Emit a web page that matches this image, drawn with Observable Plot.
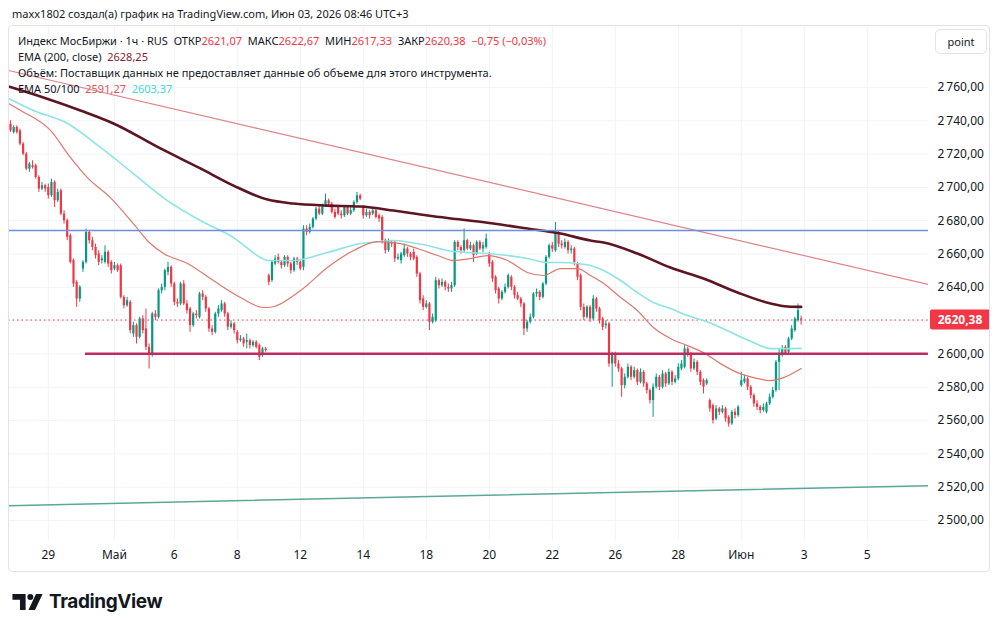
<!DOCTYPE html>
<html><head><meta charset="utf-8">
<script src="https://cdn.jsdelivr.net/npm/d3@7"></script>
<script src="https://cdn.jsdelivr.net/npm/@observablehq/plot@0.6"></script>
<style>
body{margin:0;background:#fff;font-family:"Noto Sans",sans-serif;color:#131722;}
#page{position:relative;width:1000px;height:629px;overflow:hidden;background:#fff;}
#hdr{position:absolute;left:12px;top:6px;font-size:11px;line-height:16px;white-space:nowrap;}
#chart{position:absolute;left:8px;top:25px;}
#frame{position:absolute;left:8px;top:25px;width:982px;height:547px;border:1px solid #e0e3eb;border-radius:4px;box-sizing:border-box;pointer-events:none;}
.lg{position:absolute;left:18px;font-size:11px;line-height:16px;white-space:nowrap;color:#131722;}
.r{color:#f23645}
#btn{position:absolute;left:935px;top:29px;width:52px;height:25px;border:1px solid #e0e3eb;border-radius:5px;box-sizing:border-box;font-size:11px;line-height:23px;text-align:center;background:#fff;}
#logo{position:absolute;left:12px;top:590px;display:flex;align-items:center;gap:6px;}
#logo span{font-family:Inter,"Noto Sans",sans-serif;font-weight:700;font-size:19px;letter-spacing:-0.4px;color:#131722;}
</style></head>
<body><div id="page">
<div id="hdr">maxx1802 создал(а) график на TradingView.com, Июн 03, 2026 08:46 UTC+3</div>
<div id="chart"></div>
<div class="lg" style="top:33px">Индекс МосБиржи · 1ч · RUS&nbsp;&nbsp;ОТКР<span class="r">2621,07</span>&nbsp;&nbsp;МАКС<span class="r">2622,67</span>&nbsp;&nbsp;МИН<span class="r">2617,33</span>&nbsp;&nbsp;ЗАКР<span class="r">2620,38</span>&nbsp;&nbsp;<span class="r">−0,75 (−0,03%)</span></div>
<div class="lg" style="top:49px">EMA (200, close)&nbsp;&nbsp;<span style="color:#8e1b2c">2628,25</span></div>
<div class="lg" style="top:65px">Объём: Поставщик данных не предоставляет данные об объеме для этого инструмента.</div>
<div class="lg" style="top:81px">EMA 50/100&nbsp;&nbsp;<span style="color:#e0525a">2591,27</span>&nbsp;&nbsp;<span style="color:#3fd6d6">2603,37</span></div>
<div id="btn">point</div>
<div id="frame"></div>
<div id="logo"><svg width="31" height="16" viewBox="0 0 32 17"><path d="M0 0H14V17H8V6H0Z" fill="#131722"/><circle cx="19" cy="3.2" r="3.2" fill="#131722"/><path d="M17 17L25 0H32L24 17Z" fill="#131722"/></svg><span>TradingView</span></div>
</div>
<script>
// ---- candles (hourly) ----
const OPEN = [
2738,2733,2736,2734,2726,2720,2711,2713,2713,2706,
2699,2701,2700,2695,2703,2692,2698,2684,2680,2671,
2656,2643,2633,2651,2655,2673,2668,2664,2660,2656,
2655,2661,2655,2651,2653,2653,2634,2629,2631,2612,
2617,2610,2621,2615,2604,2600,2624,2622,2638,2640,
2649,2652,2642,2631,2630,2642,2630,2627,2617,2624,
2622,2636,2634,2627,2615,2613,2624,2626,2630,2624,
2616,2618,2613,2608,2609,2607,2608,2605,2607,2605,
2599,2603,2647,2644,2654,2658,2655,2653,2658,2654,
2650,2657,2655,2652,2675,2673,2676,2681,2687,2684,
2689,2692,2690,2685,2688,2684,2683,2688,2684,2686,
2691,2695,2688,2683,2685,2684,2686,2683,2682,2668,
2662,2667,2667,2657,2656,2659,2663,2660,2661,2658,
2648,2633,2628,2630,2619,2620,2644,2641,2643,2640,
2639,2641,2667,2664,2662,2668,2663,2665,2660,2667,
2663,2664,2660,2655,2646,2639,2633,2637,2640,2646,
2640,2635,2633,2630,2615,2619,2622,2636,2637,2634,
2642,2658,2665,2662,2673,2666,2664,2667,2662,2663,
2654,2647,2628,2622,2628,2621,2633,2627,2621,2617,
2618,2594,2600,2594,2591,2581,2586,2592,2586,2590,
2583,2589,2582,2578,2572,2580,2586,2580,2588,2582,
2589,2583,2585,2591,2592,2603,2600,2591,2595,2589,
2584,2582,2572,2569,2561,2567,2565,2567,2562,2558,
2565,2563,2581,2583,2585,2580,2575,2570,2568,2566,
2565,2570,2574,2578,2595,2600,2604,2601,2609,2614,
2620,2621.07];
const CLOSE = [
2734,2736,2733,2726,2720,2711,2714,2712,2706,2699,
2701,2699,2695,2703,2692,2697,2684,2680,2670,2655,
2642,2633,2640,2655,2673,2668,2664,2659,2655,2657,
2661,2654,2650,2653,2650,2634,2629,2632,2614,2617,
2610,2621,2614,2604,2600,2624,2622,2638,2640,2650,
2652,2642,2631,2630,2642,2630,2626,2617,2624,2623,
2636,2634,2627,2615,2613,2624,2627,2630,2624,2616,
2618,2614,2608,2609,2606,2608,2605,2607,2604,2598,
2603,2602,2643,2655,2657,2655,2653,2658,2654,2650,
2657,2655,2651,2675,2673,2676,2681,2687,2684,2689,
2692,2690,2685,2682,2684,2683,2688,2684,2686,2691,
2695,2693,2683,2685,2683,2686,2682,2681,2668,2662,
2667,2666,2657,2658,2660,2663,2660,2658,2657,2648,
2632,2628,2630,2619,2622,2644,2641,2643,2640,2639,
2641,2667,2664,2662,2668,2663,2665,2659,2667,2663,
2665,2669,2654,2645,2638,2633,2637,2640,2647,2640,
2635,2633,2630,2615,2619,2622,2636,2637,2634,2642,
2658,2665,2663,2673,2666,2665,2667,2662,2663,2655,
2646,2628,2622,2628,2621,2633,2627,2620,2616,2618,
2594,2600,2594,2591,2581,2586,2592,2586,2590,2583,
2589,2582,2578,2572,2580,2586,2580,2588,2582,2589,
2583,2585,2592,2594,2603,2600,2591,2595,2589,2583,
2580,2584,2567,2560,2567,2565,2567,2561,2558,2565,
2563,2568,2584,2585,2580,2575,2570,2568,2566,2568,
2570,2574,2578,2595,2600,2603,2600,2609,2615,2621,
2626,2620.38];
const HIGH = [
2740,2737,2737,2735,2727,2721,2715,2716,2714,2707,
2703,2702,2702,2705,2704,2699,2699,2686,2681,2672,
2657,2644,2641,2656,2675,2674,2670,2666,2662,2659,
2665,2662,2656,2655,2654,2654,2635,2634,2632,2619,
2618,2622,2623,2627,2606,2625,2626,2639,2642,2651,
2655,2653,2643,2633,2643,2644,2632,2628,2625,2626,
2637,2638,2635,2628,2617,2625,2629,2632,2631,2625,
2620,2619,2614,2611,2610,2612,2609,2608,2608,2606,
2604,2604,2648,2656,2659,2660,2656,2659,2659,2655,
2658,2658,2656,2677,2677,2678,2682,2688,2689,2690,
2696,2693,2691,2687,2689,2686,2689,2689,2688,2692,
2697,2696,2689,2687,2686,2688,2687,2684,2683,2669,
2669,2668,2668,2660,2661,2666,2664,2661,2663,2659,
2649,2635,2632,2631,2624,2646,2645,2645,2644,2642,
2643,2668,2668,2665,2675,2669,2667,2666,2668,2668,
2667,2672,2661,2656,2647,2640,2638,2642,2648,2647,
2641,2637,2634,2631,2620,2624,2637,2639,2638,2643,
2659,2666,2667,2679,2674,2668,2669,2668,2665,2664,
2655,2648,2630,2629,2629,2635,2634,2628,2622,2620,
2619,2601,2601,2596,2592,2588,2594,2593,2592,2591,
2591,2590,2583,2579,2582,2588,2587,2590,2589,2591,
2590,2587,2594,2596,2605,2604,2601,2597,2596,2590,
2585,2585,2573,2570,2569,2568,2569,2568,2563,2566,
2567,2569,2589,2587,2586,2581,2576,2572,2569,2570,
2571,2576,2580,2596,2603,2605,2605,2610,2617,2622,
2630,2622.67];
const LOW = [
2733,2732,2732,2725,2719,2710,2709,2711,2705,2697,
2698,2697,2693,2694,2688,2691,2683,2678,2668,2654,
2640,2628,2631,2649,2654,2666,2662,2657,2653,2654,
2654,2652,2648,2650,2649,2633,2627,2628,2612,2610,
2606,2609,2612,2602,2591,2598,2620,2621,2636,2638,
2647,2640,2629,2628,2629,2629,2624,2613,2616,2621,
2621,2632,2625,2613,2611,2612,2622,2625,2622,2614,
2615,2612,2606,2607,2604,2603,2603,2604,2603,2596,
2598,2601,2641,2643,2653,2654,2651,2652,2652,2648,
2649,2653,2650,2650,2671,2672,2675,2680,2683,2683,
2688,2688,2684,2681,2683,2681,2682,2683,2683,2685,
2690,2692,2681,2682,2681,2683,2681,2679,2666,2660,
2661,2664,2655,2656,2654,2658,2658,2656,2656,2646,
2630,2626,2627,2614,2618,2619,2639,2640,2638,2637,
2637,2640,2662,2660,2661,2662,2662,2655,2659,2662,
2661,2663,2652,2643,2636,2630,2632,2636,2639,2638,
2633,2632,2628,2611,2613,2618,2621,2634,2632,2633,
2641,2657,2661,2661,2664,2663,2663,2660,2660,2653,
2644,2626,2620,2621,2619,2620,2625,2618,2614,2615,
2592,2580,2592,2589,2574,2579,2585,2584,2585,2581,
2582,2580,2576,2570,2562,2579,2578,2579,2580,2581,
2581,2582,2584,2590,2591,2598,2589,2590,2587,2581,
2576,2581,2565,2558,2560,2563,2564,2559,2556,2557,
2561,2562,2580,2582,2578,2573,2568,2566,2564,2565,
2564,2569,2573,2577,2578,2598,2599,2600,2608,2613,
2619,2617.33];

// ---- indicator lines (bar position, value) ----
const EMA200_AT  = [-0.6,9.5,22.2,32.7,47.6,60.3,70.8,81.6,89.8,100.6,111.1,121.6,132.4,142.9,153.3,164.1,174.6,184.1,188.3,199,209.5,220,230.8,241.3,246.7,251];
const EMA200_VAL = [2760.6,2754.6,2746.2,2738.4,2723.4,2711.4,2701.1,2692.7,2690.3,2689.1,2688.5,2686.1,2683.1,2680.7,2678.3,2675.3,2672.3,2668.1,2666.9,2660.3,2651.9,2645.3,2636.9,2630.3,2628.5,2628.25];
const EMA100_AT  = [-0.6,7.3,18.1,28.6,39,49.8,60.3,70.8,79.4,81.6,89.8,100.6,111.1,117.5,121.6,127,132.4,138.7,145.1,151.4,157.8,164.1,170.5,174.6,180,184.1,188.3,193.7,199,204.1,209.5,214.9,220,225.4,230.8,235.9,241.3,246.7,251];
const EMA100_VAL = [2753.4,2746.2,2738.4,2724,2708.3,2692.1,2680.1,2669.9,2657.9,2656.1,2656.1,2660.9,2666.3,2667.5,2668.1,2666.9,2665.1,2662.1,2660.9,2660.3,2659.1,2657.3,2654.9,2654.9,2654.3,2653.1,2650.1,2644.1,2636.9,2630.9,2627.3,2623.1,2620.1,2615.9,2611.1,2606.9,2603.2,2603.2,2603.37];
const EMA50_AT   = [-0.6,3.2,12.7,19,24.4,31.7,39,44.4,48.6,56.2,64.4,73,80.3,81.6,92.1,100.6,108.9,116.5,123.8,129.2,135.6,140.6,146,151.4,157.8,164.1,169.2,174.6,180,184.1,188.3,193.7,199,204.1,209.5,214.9,220,225.4,230.8,235.9,241.3,245.4,251];
const EMA50_VAL  = [2750.4,2746.2,2734.2,2718,2705.9,2693.9,2678.3,2666.3,2660.3,2654.3,2644.1,2633.9,2627.9,2627.9,2638.1,2651.9,2662.1,2667.5,2666.3,2663.3,2659.1,2656.1,2657.3,2659.1,2656.1,2648.9,2647.1,2651.3,2651.3,2647.1,2642.3,2633.9,2626.1,2615.9,2609.3,2605,2600.8,2594.2,2588.8,2585.8,2584,2585.8,2591.27];

// ---- drawn lines ----
const TREND_RED_AT = [-0.6, 291.4], TREND_RED_VAL = [2770.2, 2641.7];
const TREND_TEAL_AT = [-0.6, 291.4], TREND_TEAL_VAL = [2508.9, 2520.9];
const LEVEL_BLUE = 2674.1;
const LEVEL_PINK = 2600.2, LEVEL_PINK_FROM = 23.8, LEVEL_PINK_TO = 291.4;
const LAST_PRICE = 2620.38;

// ---- axes ----
const X_TICK_POS = [12,33,52,72,92,112,132,152,172,192,212,232,252,272];
const X_TICK_LABELS = ["29","Май","6","8","12","14","18","20","22","26","28","Июн","3","5"];
const Y_TICKS = [2500,2520,2540,2560,2580,2600,2620,2640,2660,2680,2700,2720,2740,2760];

const UP = "#089981", DN = "#f23645";
const candles = CLOSE.map((c, i) => ({i, o: OPEN[i], h: HIGH[i], l: LOW[i], c}));
const col = d => d.c >= d.o ? UP : DN;
const pts = (xs, ys) => xs.map((x, k) => ({x, y: ys[k]}));
const xLabel = new Map(X_TICK_POS.map((p, k) => [p, X_TICK_LABELS[k]]));
const fmt = v => v.toFixed(2).replace(".", ",").replace(/^(\d)(\d{3})/, "$1\u2009$2");

const chart = Plot.plot({
  width: 982, height: 547,
  marginLeft: 0, marginRight: 62, marginTop: 0, marginBottom: 32,
  style: {fontFamily: "Noto Sans, sans-serif", fontSize: "12px", color: "#131722", background: "transparent", overflow: "visible"},
  x: {domain: [-0.635, 291.43], axis: null},
  y: {domain: [2487.99, 2797.23], axis: null},
  color: {type: "identity"},
  marks: [
    Plot.gridX(X_TICK_POS, {stroke: "#f0f3fa", strokeOpacity: 1}),
    Plot.gridY(Y_TICKS, {stroke: "#f0f3fa", strokeOpacity: 1}),
    Plot.axisX(X_TICK_POS, {anchor: "bottom", tickSize: 0, tickPadding: 10, tickFormat: d => xLabel.get(d), fill: "#131722"}),
    Plot.axisY(Y_TICKS, {anchor: "right", tickSize: 0, tickPadding: 9, tickFormat: fmt, textAnchor: "start", fill: "#131722"}),
    Plot.ruleY([LAST_PRICE], {stroke: DN, strokeDasharray: "1.5,3", strokeWidth: 1}),
    Plot.ruleX(candles, {x: "i", y1: "l", y2: "h", stroke: col, strokeWidth: 1}),
    Plot.ruleX(candles, {x: "i", y1: "o", y2: "c", stroke: col, strokeWidth: 2.2}),
    Plot.line(pts(EMA100_AT, EMA100_VAL), {x: "x", y: "y", stroke: "#8de4e4", strokeWidth: 1.6, curve: "monotone-x", clip: true}),
    Plot.line(pts(EMA50_AT, EMA50_VAL), {x: "x", y: "y", stroke: "#e0776f", strokeWidth: 1.2, curve: "monotone-x", clip: true}),
    Plot.line(pts(EMA200_AT, EMA200_VAL), {x: "x", y: "y", stroke: "#5c1521", strokeWidth: 2.6, curve: "monotone-x", clip: true}),
    Plot.line(pts(TREND_RED_AT, TREND_RED_VAL), {x: "x", y: "y", stroke: "#e0828a", strokeWidth: 1.2, clip: true}),
    Plot.line(pts(TREND_TEAL_AT, TREND_TEAL_VAL), {x: "x", y: "y", stroke: "#5aa896", strokeWidth: 1.5, clip: true}),
    Plot.ruleY([LEVEL_BLUE], {stroke: "#6e8fdc", strokeWidth: 1.5}),
    Plot.ruleY([LEVEL_PINK], {x1: LEVEL_PINK_FROM, x2: LEVEL_PINK_TO, stroke: "#bf2a63", strokeWidth: 2.5})
  ]
});
document.getElementById("chart").appendChild(chart);

// last-price label on the price scale
const yv = chart.scale("y").apply(LAST_PRICE);
const svg = d3.select(chart);
svg.append("rect").attr("x", 922).attr("y", yv - 10).attr("width", 60).attr("height", 20).attr("rx", 2).attr("fill", DN);
svg.append("text").attr("x", 952).attr("y", yv).attr("dy", "0.35em").attr("text-anchor", "middle")
  .attr("fill", "#fff").attr("font-weight", "700").attr("font-size", 12).text(fmt(LAST_PRICE).replace("\u2009", ""));
</script>
</body></html>
